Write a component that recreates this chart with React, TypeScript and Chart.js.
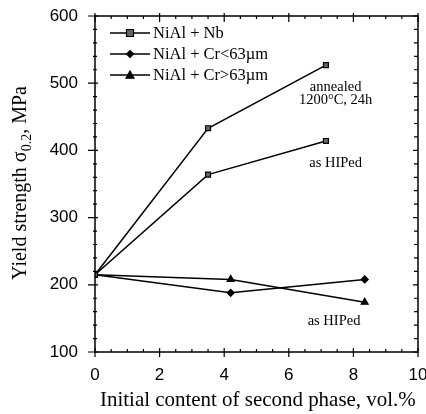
import React, { useEffect, useRef } from "react";
import { Chart, registerables } from "chart.js";

Chart.register(...registerables);

// Data
const xNb = [0, 3.5, 7.15];
const nbAnnealed = [215, 433, 527];
const nbHiped = [215, 364, 414];
const xCr = [0, 4.2, 8.35];
const crFine = [215, 188, 208];
const crCoarse = [215, 208, 174];

const seriesLabels = ["NiAl + Nb", "NiAl + Cr<63\u00b5m", "NiAl + Cr>63\u00b5m"];
const xTitle = "Initial content of second phase, vol.%";
const yTitleMain = "Yield strength \u03c3";
const yTitleSub = "0.2";
const yTitleEnd = ", MPa";

const xMin = 0, xMax = 10, xStep = 2, xMinor = 0.5;
const yMin = 100, yMax = 600, yStep = 100, yMinor = 20;

const SERIF = "'Liberation Serif', 'Times New Roman', serif";
const SANS = "'Liberation Sans', Arial, sans-serif";

const pts = (xs: number[], ys: number[]) => xs.map((x, i) => ({ x, y: ys[i] }));

function drawMarker(ctx: any, style: string, x: number, y: number, r: number, fill: string) {
  ctx.save();
  ctx.fillStyle = fill;
  ctx.strokeStyle = "#000";
  ctx.lineWidth = 1.2;
  ctx.beginPath();
  if (style === "rect") {
    ctx.rect(x - r, y - r, 2 * r, 2 * r);
  } else if (style === "rectRot") {
    ctx.moveTo(x, y - r); ctx.lineTo(x + r, y); ctx.lineTo(x, y + r); ctx.lineTo(x - r, y); ctx.closePath();
  } else {
    ctx.moveTo(x, y - r); ctx.lineTo(x + r, y + r * 0.8); ctx.lineTo(x - r, y + r * 0.8); ctx.closePath();
  }
  ctx.fill();
  ctx.stroke();
  ctx.restore();
}

const decorPlugin = {
  id: "decor",
  afterDraw(chart: any) {
    const { ctx, chartArea: a, scales } = chart;
    const xs = scales.x, ys = scales.y;
    ctx.save();
    ctx.strokeStyle = "#000";
    ctx.fillStyle = "#000";
    ctx.lineWidth = 1.5;
    ctx.strokeRect(a.left, a.top, a.right - a.left, a.bottom - a.top);
    ctx.lineWidth = 1.2;
    for (let v = xMin; v <= xMax + 1e-9; v += xMinor) {
      const px = xs.getPixelForValue(v);
      const major = Math.abs(v / xStep - Math.round(v / xStep)) < 1e-6;
      ctx.beginPath();
      if (major) {
        ctx.moveTo(px, a.bottom + 5); ctx.lineTo(px, a.bottom - 4);
        ctx.moveTo(px, a.top - 3); ctx.lineTo(px, a.top + 6);
      } else {
        ctx.moveTo(px, a.bottom); ctx.lineTo(px, a.bottom - 3);
        ctx.moveTo(px, a.top); ctx.lineTo(px, a.top + 3);
      }
      ctx.stroke();
    }
    for (let v = yMin; v <= yMax + 1e-9; v += yMinor) {
      const py = ys.getPixelForValue(v);
      const major = Math.abs(v / yStep - Math.round(v / yStep)) < 1e-6;
      ctx.beginPath();
      if (major) {
        ctx.moveTo(a.left - 7, py); ctx.lineTo(a.left + 3, py);
        ctx.moveTo(a.right, py); ctx.lineTo(a.right - 5, py);
      } else {
        ctx.moveTo(a.left - 2, py); ctx.lineTo(a.left + 2, py);
        ctx.moveTo(a.right, py); ctx.lineTo(a.right - 4, py);
      }
      ctx.stroke();
    }

    // legend
    const ds = chart.data.datasets;
    const legendIdx = [0, 2, 3];
    ctx.font = `16.5px ${SERIF}`;
    ctx.textBaseline = "middle";
    ctx.textAlign = "left";
    legendIdx.forEach((di, r) => {
      const d = ds[di];
      const y = 33 + r * 21;
      const x0 = 110, x1 = 150;
      ctx.lineWidth = 1.5;
      ctx.beginPath(); ctx.moveTo(x0, y); ctx.lineTo(x1, y); ctx.stroke();
      drawMarker(ctx, d.pointStyle, (x0 + x1) / 2, y, d.pointRadius, d.pointBackgroundColor);
      ctx.fillStyle = "#000";
      ctx.fillText(seriesLabels[r], 153, y + 1);
    });

    // annotations
    ctx.font = `14.5px ${SERIF}`;
    ctx.textAlign = "center";
    ctx.textBaseline = "middle";
    const ax = (v: number) => xs.getPixelForValue(v);
    const ay = (v: number) => ys.getPixelForValue(v);
    ctx.fillText("annealed", ax(7.45), ay(494));
    ctx.fillText("1200\u00b0C, 24h", ax(7.45), ay(474));
    ctx.fillText("as HIPed", ax(7.45), ay(381));
    ctx.fillText("as HIPed", ax(7.4), ay(146));

    // x title fitted to width
    ctx.textAlign = "left";
    ctx.textBaseline = "alphabetic";
    ctx.font = `20px ${SERIF}`;
    const tw = ctx.measureText(xTitle).width;
    const fs = 20 * 316 / tw;
    ctx.font = `${fs}px ${SERIF}`;
    ctx.fillText(xTitle, 100, 406);

    // y title with subscript
    ctx.translate(26, 183);
    ctx.rotate(-Math.PI / 2);
    const mainFont = `20px ${SERIF}`;
    const subFont = `14px ${SERIF}`;
    ctx.font = mainFont;
    const w1 = ctx.measureText(yTitleMain).width;
    const w3 = ctx.measureText(yTitleEnd).width;
    ctx.font = subFont;
    const w2 = ctx.measureText(yTitleSub).width;
    const total = w1 + w2 + w3;
    let cx = -total / 2;
    ctx.font = mainFont;
    ctx.fillText(yTitleMain, cx, 0);
    cx += w1;
    ctx.font = subFont;
    ctx.fillText(yTitleSub, cx, 5);
    cx += w2;
    ctx.font = mainFont;
    ctx.fillText(yTitleEnd, cx, 0);
    ctx.restore();
  },
};

export default function App() {
  const ref = useRef<HTMLCanvasElement>(null);
  useEffect(() => {
    if (!ref.current) return;
    const common = {
      borderColor: "#000",
      borderWidth: 1.5,
      pointBorderColor: "#000",
      pointBorderWidth: 1.2,
      showLine: true,
      tension: 0,
    };
    const chart = new Chart(ref.current, {
      type: "scatter",
      data: {
        datasets: [
          { ...common, label: seriesLabels[0], data: pts(xNb, nbAnnealed), pointStyle: "rect", pointRadius: 3.5, pointBackgroundColor: "#666" },
          { ...common, label: seriesLabels[0], data: pts(xNb, nbHiped), pointStyle: "rect", pointRadius: 3.5, pointBackgroundColor: "#666" },
          { ...common, label: seriesLabels[1], data: pts(xCr, crFine).slice(1), pointStyle: "rectRot", pointRadius: 3.5, pointBackgroundColor: "#000" },
          { ...common, label: seriesLabels[2], data: pts(xCr, crCoarse).slice(1), pointStyle: "triangle", pointRadius: 4, pointBackgroundColor: "#000" },
          { ...common, label: "fine-line", data: pts(xCr, crFine).slice(0, 2), pointRadius: 0 },
          { ...common, label: "coarse-line", data: pts(xCr, crCoarse).slice(0, 2), pointRadius: 0 },
        ] as any,
      },
      options: {
        animation: false,
        responsive: false,
        layout: { padding: { left: 0, right: 8, top: 16, bottom: 0 } },
        plugins: { legend: { display: false }, tooltip: { enabled: false } },
        scales: {
          x: {
            type: "linear",
            min: xMin,
            max: xMax,
            grid: { display: false },
            border: { display: false },
            ticks: { stepSize: xStep, color: "#000", font: { family: SANS, size: 17 }, padding: 5 },
            afterFit: (s: any) => { s.height = 62; s.paddingLeft = 0; s.paddingRight = 0; },
          },
          y: {
            min: yMin,
            max: yMax,
            grid: { display: false },
            border: { display: false },
            ticks: { stepSize: yStep, color: "#000", font: { family: SANS, size: 17 }, padding: 9 },
            afterFit: (s: any) => { s.width = 95; s.paddingTop = 0; s.paddingBottom = 0; },
          },
        },
      } as any,
      plugins: [decorPlugin],
    });
    return () => chart.destroy();
  }, []);
  return (
    <div style={{ position: "fixed", left: 0, top: 0, width: 426, height: 414, background: "#fff" }}>
      <canvas ref={ref} width={426} height={414} style={{ display: "block" }} />
    </div>
  );
}
